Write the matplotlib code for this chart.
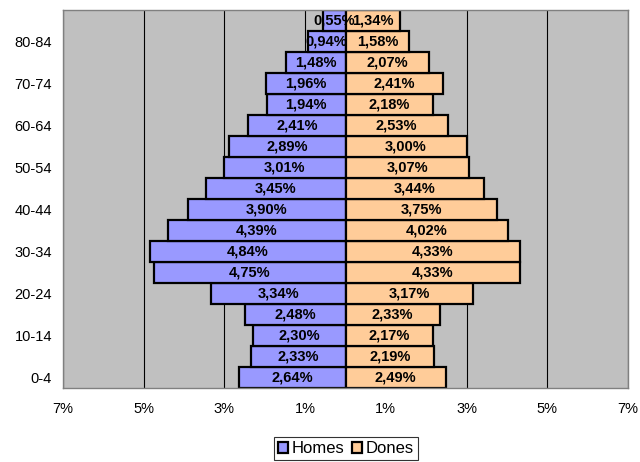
import matplotlib
matplotlib.use("Agg")
import matplotlib.pyplot as plt
import numpy as np

plt.rcParams["font.family"] = ["Liberation Sans", "DejaVu Sans"]

ages = ["0-4", "5-9", "10-14", "15-19", "20-24", "25-29", "30-34", "35-39",
        "40-44", "45-49", "50-54", "55-59", "60-64", "65-69", "70-74",
        "75-79", "80-84", "85+"]
homes = [2.64, 2.33, 2.30, 2.48, 3.34, 4.75, 4.84, 4.39, 3.90, 3.45,
         3.01, 2.89, 2.41, 1.94, 1.96, 1.48, 0.94, 0.55]
dones = [2.49, 2.19, 2.17, 2.33, 3.17, 4.33, 4.33, 4.02, 3.75, 3.44,
         3.07, 3.00, 2.53, 2.18, 2.41, 2.07, 1.58, 1.34]
xticks = [-7, -5, -3, -1, 1, 3, 5, 7]

fig = plt.figure(figsize=(6.4, 4.62), dpi=100)
ax = fig.add_axes([63 / 640, 1 - 388 / 462, 565 / 640, 378 / 462])
ax.set_facecolor("#C0C0C0")

y = np.arange(len(ages))
h = -np.array(homes)
d = np.array(dones)

for xt in xticks:
    ax.axvline(xt, color="black", lw=0.8, zorder=1)

bh = ax.barh(y, h, height=1.0, color="#9999FF", edgecolor="black", lw=1.6,
             label="Homes", zorder=2)
bd = ax.barh(y, d, height=1.0, color="#FFCC99", edgecolor="black", lw=1.6,
             label="Dones", zorder=2)

for yi, v in zip(y, homes):
    ax.text(-v / 2, yi, f"{v:.2f}%".replace(".", ","), ha="center", va="center",
            fontsize=10.5, fontweight="bold", zorder=3)
for yi, v in zip(y, dones):
    ax.text(v / 2, yi, f"{v:.2f}%".replace(".", ","), ha="center", va="center",
            fontsize=10.5, fontweight="bold", zorder=3)

ax.set_xlim(-7, 7)
ax.set_ylim(-0.5, len(ages) - 0.5)
ax.set_xticks(xticks)
ax.set_xticklabels([f"{abs(t)}%" for t in xticks], fontsize=10.5)
ax.set_yticks(y[::2])
ax.set_yticklabels(ages[::2], fontsize=10.5)
ax.tick_params(axis="x", length=0, pad=10)
ax.tick_params(axis="y", length=0, pad=8)
for s in ax.spines.values():
    s.set_color("#808080")
    s.set_linewidth(1.0)

leg = fig.legend(handles=[bh, bd], loc="upper center", bbox_to_anchor=(346 / 640, 1 - 437 / 462),
                 ncol=2, frameon=True, fancybox=False, fontsize=12,
                 handlelength=0.6, handleheight=0.6, handletextpad=0.2,
                 columnspacing=0.5, borderpad=0.25, borderaxespad=0)
leg.get_frame().set_edgecolor("black")
leg.get_frame().set_linewidth(0.8)

fig.savefig("out.png", dpi=100)
